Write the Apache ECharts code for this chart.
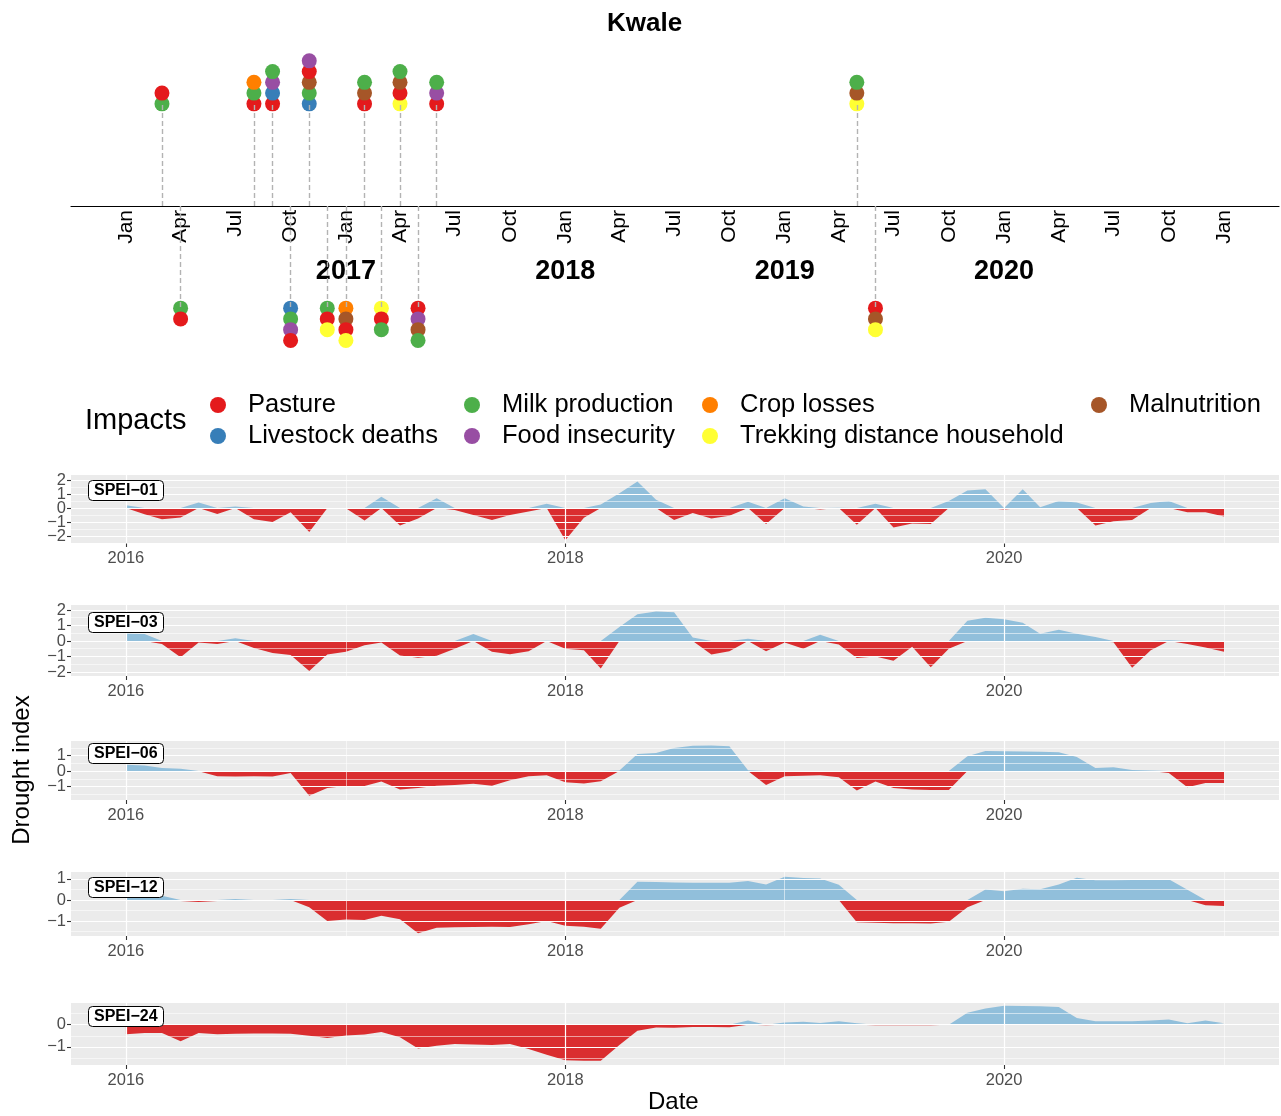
<!DOCTYPE html>
<html><head><meta charset="utf-8">
<script src="https://cdn.jsdelivr.net/npm/echarts@6/dist/echarts.min.js"></script>
<style>html,body{margin:0;padding:0;background:#fff}#c{width:1281px;height:1116px}</style>
</head><body><div id="c"></div>
<script>
// ---------------- DATA ----------------
const months = [
 '2016-01','2016-02','2016-03','2016-04','2016-05','2016-06','2016-07','2016-08','2016-09','2016-10','2016-11','2016-12',
 '2017-01','2017-02','2017-03','2017-04','2017-05','2017-06','2017-07','2017-08','2017-09','2017-10','2017-11','2017-12',
 '2018-01','2018-02','2018-03','2018-04','2018-05','2018-06','2018-07','2018-08','2018-09','2018-10','2018-11','2018-12',
 '2019-01','2019-02','2019-03','2019-04','2019-05','2019-06','2019-07','2019-08','2019-09','2019-10','2019-11','2019-12',
 '2020-01','2020-02','2020-03','2020-04','2020-05','2020-06','2020-07','2020-08','2020-09','2020-10','2020-11','2020-12',
 '2021-01'];
const spei01 = [0.2,-0.45,-0.8,-0.67,0.4,-0.42,0.1,-0.8,-1.0,-0.3,-1.72,-0.02,-0.02,-0.9,0.8,-1.25,-0.75,0.7,-0.15,-0.5,-0.85,-0.5,-0.25,0.3,-2.3,-0.7,0.25,1.05,1.9,0.6,-0.85,-0.35,-0.75,-0.55,0.45,-1.15,0.7,0.1,-0.1,0.02,-1.2,0.3,-1.4,-1.1,-1.15,0.5,1.25,1.35,-0.1,1.35,0.05,0.5,0.4,-1.25,-0.95,-0.85,0.35,0.5,-0.3,-0.3,-0.6];
const spei03 = [0.5,0.45,-0.2,-1.05,-0.1,-0.2,0.18,-0.45,-0.78,-0.9,-1.93,-0.87,-0.7,-0.27,-0.1,-0.93,-1.08,-0.95,-0.5,0.45,-0.7,-0.85,-0.67,0.02,-0.5,-0.6,-1.78,0.9,1.73,1.9,1.85,0.22,-0.87,-0.67,0.15,-0.67,-0.1,-0.5,0.4,-0.22,-1.1,-1.0,-1.27,-0.38,-1.7,-0.5,1.3,1.5,1.4,1.18,0.47,0.72,0.47,0.25,-0.08,-1.72,-0.6,0.05,-0.2,-0.42,-0.7];
const spei06 = [0.4,0.35,0.2,0.15,-0.02,-0.33,-0.35,-0.33,-0.35,-0.12,-1.6,-1.1,-0.97,-0.97,-0.68,-1.2,-1.1,-0.95,-0.9,-0.82,-0.95,-0.6,-0.33,-0.27,-0.72,-0.8,-0.66,0.04,1.1,1.17,1.48,1.63,1.65,1.6,0.05,-0.9,-0.33,-0.3,-0.27,-0.4,-1.25,-0.68,-1.1,-1.2,-1.23,-1.23,0.95,1.3,1.28,1.26,1.24,1.22,0.9,0.19,0.25,0.06,0.04,-0.12,-1.05,-0.78,-0.78];
const spei12 = [0.35,0.35,0.2,-0.05,-0.1,-0.05,0.05,0.0,-0.02,0.05,-0.35,-1.0,-0.93,-0.95,-0.75,-0.92,-1.58,-1.32,-1.3,-1.28,-1.27,-1.28,-1.15,-1.0,-1.22,-1.27,-1.36,-0.37,0.87,0.85,0.83,0.82,0.82,0.82,0.9,0.74,1.1,1.05,1.02,0.72,-1.06,-1.08,-1.1,-1.11,-1.12,-1.03,-0.35,0.5,0.42,0.54,0.51,0.74,1.06,0.94,0.94,0.95,0.98,0.98,0.49,-0.25,-0.28];
const spei24 = [-0.43,-0.37,-0.38,-0.75,-0.38,-0.43,-0.41,-0.4,-0.4,-0.41,-0.5,-0.6,-0.49,-0.44,-0.33,-0.57,-1.08,-0.95,-0.87,-0.89,-0.92,-0.87,-1.1,-1.36,-1.6,-1.63,-1.63,-0.92,-0.27,-0.13,-0.14,-0.1,-0.1,-0.11,0.19,-0.02,0.1,0.13,0.08,0.16,0.06,-0.02,-0.03,-0.03,-0.03,0.0,0.54,0.73,0.86,0.85,0.83,0.8,0.3,0.16,0.16,0.16,0.19,0.24,0.06,0.19,0.06];
const panelNames = ['SPEI\u221201','SPEI\u221203','SPEI\u221206','SPEI\u221212','SPEI\u221224'];

const impactNames = ['Pasture','Livestock deaths','Milk production','Food insecurity','Crop losses','Trekking distance household','Malnutrition'];
const eventMonths = ['2016-03','2016-04','2016-08','2016-09','2016-10','2016-11','2016-12','2017-01','2017-02','2017-03','2017-04','2017-05','2017-06','2019-05','2019-06'];
const eventSide = [1,-1,1,1,-1,1,-1,-1,1,-1,1,-1,1,1,-1];
const eventImpacts = [
 ['Milk production','Pasture'],
 ['Milk production','Pasture'],
 ['Pasture','Milk production','Crop losses'],
 ['Pasture','Livestock deaths','Food insecurity','Milk production'],
 ['Livestock deaths','Milk production','Food insecurity','Pasture'],
 ['Livestock deaths','Milk production','Malnutrition','Pasture','Food insecurity'],
 ['Milk production','Pasture','Trekking distance household'],
 ['Crop losses','Malnutrition','Pasture','Trekking distance household'],
 ['Pasture','Malnutrition','Milk production'],
 ['Trekking distance household','Pasture','Milk production'],
 ['Trekking distance household','Pasture','Malnutrition','Milk production'],
 ['Pasture','Food insecurity','Malnutrition','Milk production'],
 ['Pasture','Food insecurity','Milk production'],
 ['Trekking distance household','Malnutrition','Milk production'],
 ['Pasture','Malnutrition','Trekking distance household']
];
const quarterTicks = ['2016-01','2016-04','2016-07','2016-10','2017-01','2017-04','2017-07','2017-10','2018-01','2018-04','2018-07','2018-10','2019-01','2019-04','2019-07','2019-10','2020-01','2020-04','2020-07','2020-10','2021-01'];
const yearTicks = ['2017-01','2018-01','2019-01','2020-01'];
const panelYearTicks = ['2016-01','2018-01','2020-01'];
const monthAbbr = ['Jan','Feb','Mar','Apr','May','Jun','Jul','Aug','Sep','Oct','Nov','Dec'];

// ---------------- STYLE ----------------
const impactColors = {'Pasture':'#E41A1C','Livestock deaths':'#377EB8','Milk production':'#4DAF4A','Food insecurity':'#984EA3','Crop losses':'#FF7F00','Trekking distance household':'#FFFF33','Malnutrition':'#A65628'};
const FONT = '"Liberation Sans", Arial, Helvetica, sans-serif';
const POS = '#91BFDB', NEG = '#DA2D2F';
const panelLayout = [
  {top:475, bottom:543, min:-2.5, max:2.36, box:480},
  {top:605, bottom:676, min:-2.26, max:2.32, box:612},
  {top:741, bottom:800, min:-1.87, max:1.94, box:743},
  {top:872, bottom:936, min:-1.71, max:1.33, box:877},
  {top:1003, bottom:1065, min:-1.82, max:0.98, box:1006}
];
const series5 = [spei01, spei03, spei06, spei12, spei24];

function ts(m){ const [y,mo]=m.split('-').map(Number); return Date.UTC(y,mo-1,1); }
const t0 = ts(months[0]), t1 = ts(months[months.length-1]);
const xMin = t0 - 0.05*(t1-t0), xMax = t1 + 0.05*(t1-t0);

const grids=[], xAxes=[], yAxes=[], series=[], titles=[];
// ---------- Timeline (two grids: above / below the axis) ----------
const LV = 15.44, BASE = 9.5;
grids.push({left:71, right:2, top:40, height:166});
grids.push({left:71, right:2, top:206, height:166});
xAxes.push({gridIndex:0, type:'value', min:xMin, max:xMax, position:'bottom',
  axisLine:{show:true, onZero:false, lineStyle:{color:'#000', width:1.1}},
  axisTick:{show:false}, splitLine:{show:false},
  axisLabel:{customValues: quarterTicks.map(ts), interval:0, rotate:90, margin:4, fontSize:21, color:'#000', fontFamily:FONT,
    formatter:v=>monthAbbr[new Date(v).getUTCMonth()]}});
xAxes.push({gridIndex:1, type:'value', min:xMin, max:xMax, show:false});
yAxes.push({gridIndex:0, type:'value', min:0, max:LV, show:false, splitLine:{show:false}});
yAxes.push({gridIndex:1, type:'value', min:-LV, max:0, show:false, splitLine:{show:false}});

const stems=[[],[]], dots=[[],[]];
eventMonths.forEach((m,i)=>{
  const t=ts(m), s=eventSide[i], g = s>0?0:1;
  stems[g].push([{coord:[t,0]},{coord:[t,s*BASE]}]);
  eventImpacts[i].forEach((name,k)=>{
    dots[g].push({level:k, value:[t, s*(BASE+k)], name, itemStyle:{color:impactColors[name], opacity:1}});
  });
});
[0,1].forEach(g=>{
  dots[g].sort((a,b)=>a.level-b.level);
  series.push({type:'line', xAxisIndex:g, yAxisIndex:g, data:[], silent:true, z:1,
    markLine:{silent:true, symbol:['none','none'], label:{show:false},
      lineStyle:{color:'#B3B3B3', type:[5,3], width:1.4}, data:stems[g]}});
  series.push({type:'scatter', xAxisIndex:g, yAxisIndex:g, symbolSize:15, z:3, silent:true,
    data:dots[g].map(d=>({value:d.value, name:d.name, itemStyle:d.itemStyle}))});
});
impactNames.forEach(n=>{
  series.push({name:n, type:'scatter', xAxisIndex:0, yAxisIndex:0, data:[], itemStyle:{color:impactColors[n], opacity:1}});
});

// ---------- SPEI panels ----------
function yAxisFor(gi, L, vals){
  return {gridIndex:gi, type:'value', min:L.min, max:L.max, position:'left', offset:0,
    axisLine:{show:false}, splitLine:{show:false},
    axisTick:{show:vals.length>0, customValues:vals, interval:0, length:4, lineStyle:{color:'#333', width:1.1}},
    axisLabel:{show:vals.length>0, customValues:vals, interval:0, hideOverlap:false, margin:5, fontSize:16.5, color:'#4D4D4D', fontFamily:FONT,
      formatter:v=>String(v).replace('-','\u2212')}};
}
series5.forEach((vals,p)=>{
  const L = panelLayout[p], gi = p+2, xi = p+2, yi = 2+2*p;
  grids.push({left:71, right:2, top:L.top, height:L.bottom-L.top, show:true, backgroundColor:'#EBEBEB', borderWidth:0});
  const even=[], odd=[];
  for(let v=Math.ceil(L.min); v<=Math.floor(L.max); v++) (Math.abs(v)%2===0?even:odd).push(v);
  xAxes.push({gridIndex:gi, type:'value', min:xMin, max:xMax,
    axisLine:{show:false, onZero:false}, splitLine:{show:false},
    axisTick:{show:true, customValues: panelYearTicks.map(ts), interval:0, length:4, lineStyle:{color:'#333', width:1.1}},
    axisLabel:{customValues: panelYearTicks.map(ts), interval:0, margin:7, fontSize:16.5, color:'#4D4D4D', fontFamily:FONT,
      formatter:v=>String(new Date(v).getUTCFullYear())}});
  yAxes.push(yAxisFor(gi, L, even));
  yAxes.push(yAxisFor(gi, L, odd));
  const gl=[];
  for(let v=Math.ceil(L.min*2)/2; v<=L.max; v+=0.5){
    gl.push({yAxis:v, lineStyle:{width: Number.isInteger(v)?1.2:0.55}});
  }
  ['2016-01','2017-01','2018-01','2019-01','2020-01','2021-01'].forEach((m,k)=>{
    gl.push({xAxis:ts(m), lineStyle:{width: k%2===0?1.2:0.55}});
  });
  series.push({type:'line', xAxisIndex:xi, yAxisIndex:yi, data:[], silent:true, z:1,
    markLine:{silent:true, symbol:['none','none'], label:{show:false},
      lineStyle:{color:'#FFFFFF', type:'solid'}, data:gl}});
  series.push({type:'line', xAxisIndex:xi, yAxisIndex:yi, z:2, silent:true, showSymbol:false, symbol:'none',
    lineStyle:{width:0, opacity:0}, areaStyle:{color:POS, opacity:1},
    data: vals.map((v,i)=>[ts(months[i]), Math.max(v,0)])});
  series.push({type:'line', xAxisIndex:xi, yAxisIndex:yi, z:2, silent:true, showSymbol:false, symbol:'none',
    lineStyle:{width:0, opacity:0}, areaStyle:{color:NEG, opacity:1},
    data: vals.map((v,i)=>[ts(months[i]), Math.min(v,0)])});
  titles.push({text:panelNames[p], left:88, top:L.box, backgroundColor:'#fff', borderColor:'#000', borderWidth:1,
    borderRadius:4, padding:[3,6,2,6], textStyle:{fontSize:16, fontWeight:'bold', color:'#000', lineHeight:16, fontFamily:FONT}});
});

// year labels of timeline (last xAxis, on the upper timeline grid)
xAxes.push({gridIndex:0, type:'value', min:xMin, max:xMax, position:'bottom', offset:52,
  axisLine:{show:false, onZero:false}, axisTick:{show:false}, splitLine:{show:false},
  axisLabel:{customValues: yearTicks.map(ts), interval:0, margin:0, fontSize:27, fontWeight:'bold', color:'#000', fontFamily:FONT,
    formatter:v=>String(new Date(v).getUTCFullYear())}});

titles.push({text:'Kwale', left:607, top:10, padding:0, textStyle:{fontSize:26, fontWeight:'bold', color:'#000', fontFamily:FONT, lineHeight:28}});
titles.push({text:'Impacts', left:85, top:406, padding:0, textStyle:{fontSize:29, fontWeight:'normal', color:'#000', fontFamily:FONT, lineHeight:30}});
titles.push({text:'Date', left:648, top:1089, padding:0, textStyle:{fontSize:24, fontWeight:'normal', color:'#000', fontFamily:FONT, lineHeight:26}});

const legendCols = [
  {left:210, data:['Pasture','Livestock deaths']},
  {left:464, data:['Milk production','Food insecurity']},
  {left:702, data:['Crop losses','Trekking distance household']},
  {left:1091, data:['Malnutrition']}
];
const legends = legendCols.map(c=>({left:c.left, top:392, orient:'vertical', data:c.data, icon:'circle',
  itemWidth:16, itemHeight:16, itemGap:5, padding:0, selectedMode:false,
  itemStyle:{opacity:1},
  textStyle:{fontSize:25.5, lineHeight:26, color:'#000', fontFamily:FONT, padding:[0,0,0,17]}}));

const chart = echarts.init(document.getElementById('c'), null, {renderer:'canvas'});
chart.setOption({
  animation:false,
  backgroundColor:'#fff',
  title: titles,
  legend: legends,
  grid: grids, xAxis: xAxes, yAxis: yAxes, series,
  graphic:[{type:'text', x:22, y:770, rotation:Math.PI/2,
    style:{text:'Drought index', fontSize:24, fontFamily:FONT, fill:'#000', textAlign:'center', textVerticalAlign:'middle'}}]
});
</script></body></html>
